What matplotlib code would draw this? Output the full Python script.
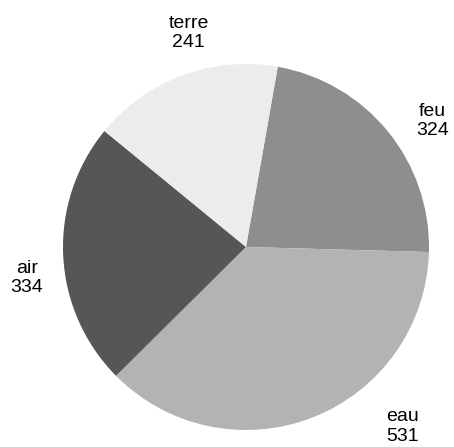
import numpy as np
import matplotlib
matplotlib.use("Agg")
import matplotlib.pyplot as plt

plt.rcParams['font.family'] = ['Liberation Sans', 'DejaVu Sans']

# data, clockwise from the top
labels = ['feu', 'eau', 'air', 'terre']
values = [324, 531, 334, 241]
colors = ['#8e8e8e', '#b3b3b3', '#565656', '#ececec']
# label direction (degrees) and distance (radii) as placed in the original
label_angles = [34, -49, 188, 105]
label_dists = [1.23, 1.30, 1.21, 1.21]

W, H = 454, 447
fig = plt.figure(figsize=(W / 100, H / 100), dpi=100)
R = 183.0
cx, cy = 246.0, H - 247.0
half = 1.25 * R
ax = fig.add_axes([(cx - half) / W, (cy - half) / H, 2 * half / W, 2 * half / H])

wedges, texts = ax.pie(values, colors=colors, startangle=80, counterclock=False,
                       labels=[f'{l}\n{v}' for l, v in zip(labels, values)],
                       labeldistance=1.2, textprops={'fontsize': 14, 'ha': 'center',
                                                     'va': 'center'})
for t, a, r in zip(texts, label_angles, label_dists):
    t.set_position((r * np.cos(np.radians(a)), r * np.sin(np.radians(a))))
    t.set_ha('center')
    t.set_clip_on(False)

ax.set_xlim(-1.25, 1.25)
ax.set_ylim(-1.25, 1.25)
ax.set_aspect('equal')
ax.axis('off')

fig.savefig('out.png', dpi=100)
